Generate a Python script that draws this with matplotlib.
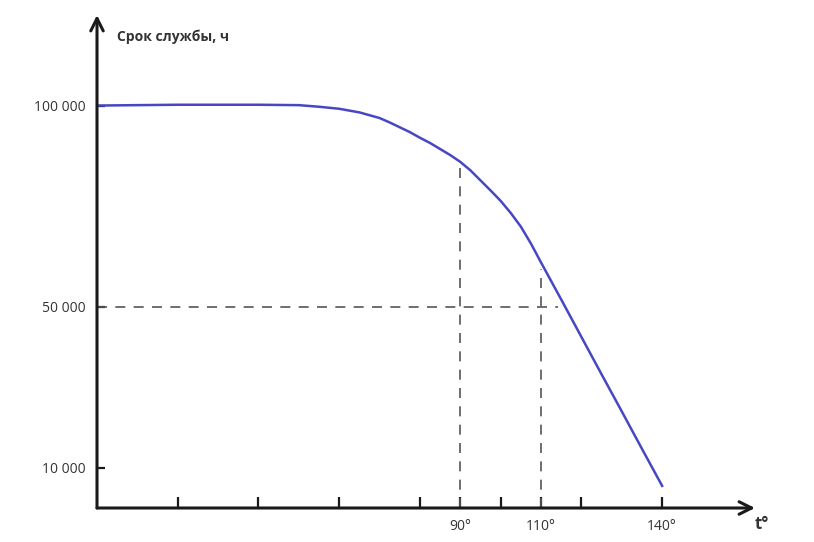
import matplotlib
matplotlib.use("Agg")
import matplotlib.pyplot as plt

plt.rcParams['font.family'] = ['Open Sans', 'DejaVu Sans']

# temperature, degrees
temps = [0, 10, 20, 30, 40, 50, 55, 60, 65, 70, 72.5, 75, 77.5, 80, 82.5,
         85, 87.5, 90, 92.5, 95, 97.5, 100, 102.5, 105, 107.5, 110, 115,
         120, 125, 130, 135, 140]
# service life, hours
life = [100000, 100100, 100200, 100200, 100200, 100100, 99700, 99200, 98300,
        96900, 95800, 94600, 93400, 92000, 90700, 89200, 87700, 86000, 83900,
        81400, 78900, 76300, 73300, 69900, 65700, 61000, 51800, 42500, 33200,
        24000, 14700, 5500]

x_ticks = [20, 40, 60, 80, 90, 100, 110, 120, 140]
x_tick_labels = ["", "", "", "", "90°", "", "110°", "", "140°"]
y_ticks = [10000, 50000, 100000]
y_tick_labels = ["10 000", "50 000", "100 000"]

ref_temps = [90, 110]
ref_life = [85000, 59500]
ref_level = 50000
ref_level_end = 114.3

fig = plt.figure(figsize=(8.14, 5.42), dpi=100)
ax = fig.add_axes([97 / 814, 34 / 542, (755 - 97) / 814, (508 - 15) / 542])
ax.set_xlim(0, 163)
ax.set_ylim(0, 122500)

for s in ax.spines.values():
    s.set_visible(False)

axis_col = "#1a1a1a"
ax.annotate("", xy=(1.0, 0), xytext=(0, 0), xycoords="axes fraction",
            arrowprops=dict(arrowstyle="->,head_length=0.9,head_width=0.45",
                            lw=2.2, color=axis_col, shrinkA=0, shrinkB=0))
ax.annotate("", xy=(0, 1.0), xytext=(0, 0), xycoords="axes fraction",
            arrowprops=dict(arrowstyle="->,head_length=0.9,head_width=0.45",
                            lw=2.2, color=axis_col, shrinkA=0, shrinkB=0))

dash = dict(color="#555555", lw=1.2, linestyle=(0, (6, 5)))
for t, v in zip(ref_temps, ref_life):
    ax.plot([t, t], [0, v], **dash)
ax.plot([0, ref_level_end], [ref_level, ref_level], **dash)

ax.plot(temps, life, color="#4747c4", lw=1.8)

ax.set_xticks(x_ticks)
ax.set_xticklabels(x_tick_labels)
ax.set_yticks(y_ticks)
ax.set_yticklabels(y_tick_labels)
ax.tick_params(axis="x", direction="in", length=8, width=1.6, color=axis_col,
               labelsize=10, labelcolor="#333333", pad=8)
ax.tick_params(axis="y", direction="in", length=6, width=1.6, color=axis_col,
               labelsize=10, labelcolor="#333333", pad=8)

fig.text(117 / 814, 1 - 37 / 542, "Срок службы, ч", fontsize=10,
         fontweight="bold", color="#333333", va="center", ha="left")
fig.text(762 / 814, 1 - 524 / 542, "t°", fontsize=12,
         fontweight="bold", color="#333333", va="center", ha="center")

plt.savefig("out.png", dpi=100)
